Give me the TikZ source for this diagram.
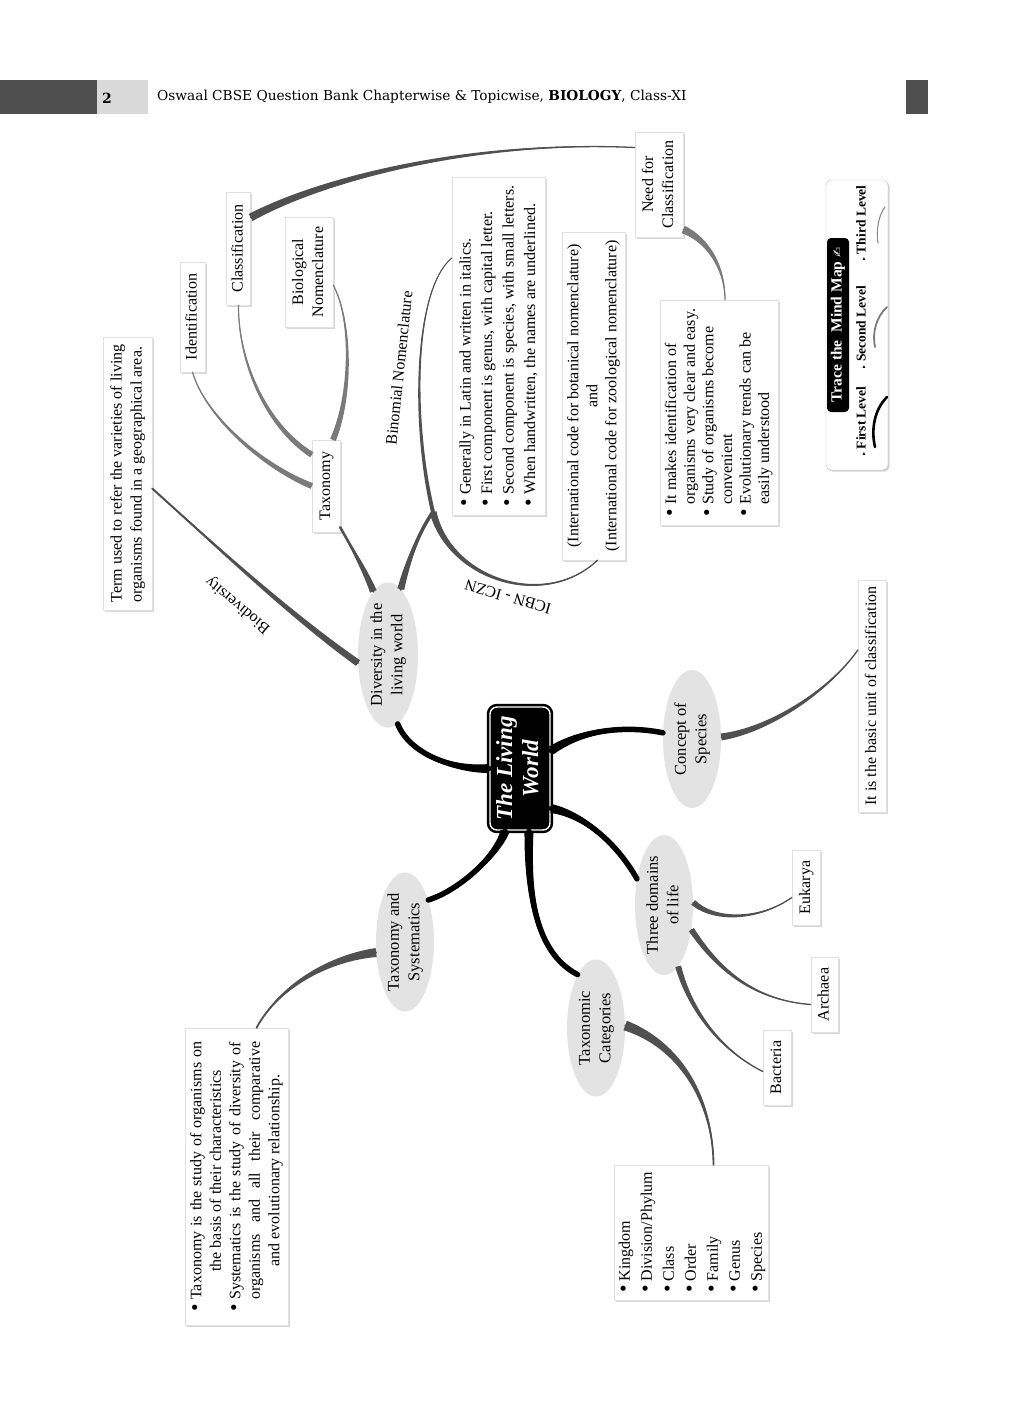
\documentclass[tikz,border=0pt]{standalone}
\usepackage{fontspec}
\usepackage{graphicx}
\setmainfont{Liberation Serif}
\newfontfamily\hdrfont{DejaVu Serif}
\newfontfamily\symf{DejaVu Sans}
\usetikzlibrary{calc,shapes.geometric,shadows}
\definecolor{lvB}{HTML}{505050}
\definecolor{lvC}{HTML}{7A7A7A}
\definecolor{ellfill}{HTML}{E3E3E3}
\definecolor{hdark}{HTML}{4F4F4F}
\definecolor{hlight}{HTML}{D9D9D9}
\newcommand\rtxt[2][c]{\rotatebox{90}{\begin{tabular}{@{}#1@{}}#2\end{tabular}}}
\newcommand\bul{\raisebox{-0.05ex}{\scalebox{1.35}{\textbullet}}}
\newcommand\mmtaper[7]{%
 \fill[#6] ($(#1)!#5!90:#2$) .. controls ($#2!#5*0.7!90:#3$) and ($#3!#5*0.35!90:(#4)$) .. (#4)
 .. controls ($#3!#5*0.35!-90:(#4)$) and ($#2!#5*0.7!-90:#3$) .. ($(#1)!#5!-90:#2$) -- cycle;
 \draw[#6,line width=#7,line cap=round] (#1) .. controls #2 and #3 .. (#4);
}
\begin{document}
\begin{tikzpicture}[x=1pt,y=-1pt,
 ell/.style={ellipse,fill=ellfill,inner sep=0pt,font=\fontsize{16.5}{20.5}\selectfont},
 box/.style={rectangle,fill=white,draw=black!12,line width=0.4pt,inner sep=0pt,
   drop shadow={shadow xshift=1.5pt,shadow yshift=-1.5pt,opacity=0.3},font=\fontsize{16}{20}\selectfont},
 lbl/.style={inner sep=0pt,font=\fontsize{16}{18}\selectfont},
 lev/.style={inner sep=0pt,font=\bfseries\fontsize{13.5}{15}\selectfont},
]
\useasboundingbox (0,0) rectangle (1024,1408);
\fill[white] (0,0) rectangle (1024,1408);
% header
\fill[hdark] (0,80) rectangle (97,114);
\fill[hlight] (97,80) rectangle (148,114);
\fill[hdark] (906,80) rectangle (928,114);
\node[anchor=west,inner sep=0pt,font=\hdrfont\bfseries\fontsize{14}{16}\selectfont] (pg) at (102,98) {2};
\node[anchor=west,inner sep=0pt,font=\hdrfont\fontsize{13.7}{16}\selectfont] (hdr) at (157,97) {Oswaal CBSE Question Bank Chapterwise \& Topicwise, \textbf{BIOLOGY}, Class-XI};

% centre
\node[rectangle,rounded corners=7pt,fill=black,draw=black,double=white,double distance=1.4pt,line width=2.5pt,
  minimum width=60,minimum height=123,inner sep=0pt,text=white,font=\bfseries\itshape\fontsize{23}{26}\selectfont]
  (ctr) at (520,768.5) {\rtxt{The Living\\World}};

% first level
\node[ell,minimum width=60,minimum height=135] (div) at (388,655) {\rtxt{Diversity in the\\living world}};
\node[ell,minimum width=56,minimum height=138] (conc) at (692,739) {\rtxt{Concept of\\Species}};
\node[ell,minimum width=52,minimum height=140] (three) at (664,905) {\rtxt{Three domains\\of life}};
\node[ell,minimum width=52,minimum height=137] (tcat) at (596,1028) {\rtxt{Taxonomic\\Categories}};
\node[ell,minimum width=53,minimum height=139] (tsys) at (405,942) {\rtxt{Taxonomy and\\Systematics}};

% boxes
\node[box,minimum width=49,minimum height=273] (term) at (127.5,473.5) {\rtxt[l]{Term used to refer the varieties of living\\organisms found in a geographical area.}};
\node[box,minimum width=25,minimum height=110] (ident) at (192.5,317) {\rtxt{Identification}};
\node[box,minimum width=24,minimum height=113] (class) at (238.5,248.5) {\rtxt{Classification}};
\node[box,minimum width=48,minimum height=110] (bionom) at (309,272) {\rtxt{Biological\\Nomenclature}};
\node[box,minimum width=28,minimum height=92] (taxo) at (326,486) {\rtxt{Taxonomy}};
\node[box,minimum width=93,minimum height=338,font=\fontsize{16}{21.5}\selectfont] (binom) at (498.5,346) {\rtxt[l@{\ }l]{\bul & Generally in Latin and written in italics.\\ \bul & First component is genus, with capital letter.\\ \bul & Second component is species, with small letters.\\ \bul & When handwritten, the names are underlined.}};
\node[box,minimum width=63,minimum height=328,font=\fontsize{16}{19}\selectfont] (icbn) at (593.5,396) {\rtxt{(International code for botanical nomenclature)\\and\\(International code for zoological nomenclature)}};
\node[box,minimum width=48,minimum height=105] (need) at (659,184.5) {\rtxt{Need for\\Classification}};
\node[box,minimum width=118,minimum height=225,font=\fontsize{16}{18.6}\selectfont] (needb) at (719,412.5) {\rtxt[l@{\ }l]{\bul & It makes identification of\\ & organisms very clear and easy.\\ \bul & Study of organisms become\\ & convenient\\ \bul & Evolutionary trends can be\\ & easily understood}};
\node[box,minimum width=28,minimum height=232] (basic) at (872,696) {\rtxt{It is the basic unit of classification}};
\node[box,minimum width=28,minimum height=75] (euk) at (806,887.5) {\rtxt{Eukarya}};
\node[box,minimum width=27,minimum height=75] (arch) at (824.5,994.5) {\rtxt{Archaea}};
\node[box,minimum width=28,minimum height=75] (bact) at (777,1067.5) {\rtxt{Bacteria}};
\node[box,minimum width=153,minimum height=135,font=\fontsize{16}{22}\selectfont] (tcl) at (691.5,1232.5) {\rtxt[l@{\ }l]{\bul & Kingdom\\ \bul & Division/Phylum\\ \bul & Class\\ \bul & Order\\ \bul & Family\\ \bul & Genus\\ \bul & Species}};
\node[box,minimum width=103,minimum height=297,font=\fontsize{16}{19.5}\selectfont] (tsb) at (236.5,1176.5) {\rotatebox{90}{\begin{tabular}{@{}l@{\ }l@{}}
\bul & \makebox[258pt][s]{Taxonomy is the study of organisms on}\\
 & \makebox[258pt][c]{the basis of their characteristics}\\
\bul & \makebox[258pt][s]{Systematics is the study of diversity of}\\
 & \makebox[258pt][s]{organisms and all their comparative}\\
 & \makebox[258pt][c]{and evolutionary relationship.}
\end{tabular}}};

% legend
\node[rectangle,rounded corners=5pt,fill=white,draw=black!25,minimum width=62,minimum height=290,
  drop shadow={shadow xshift=1.5pt,shadow yshift=-1.5pt,opacity=0.35}] (leg) at (857,325) {};
\node[rectangle,rounded corners=4pt,fill=black,text=white,inner sep=0pt,minimum width=22,minimum height=174,
  font=\bfseries\fontsize{15.5}{17}\selectfont] (legt) at (838,325) {\rotatebox{90}{Trace the\ \ Mind Map {\symf\fontsize{12}{12}\selectfont ✍}}};
\node[lev] (lv1) at (861,421) {\rotatebox{90}{{\symf\fontsize{6}{7}\selectfont ▸} First Level}};
\node[lev] (lv2) at (861,327) {\rotatebox{90}{{\symf\fontsize{6}{7}\selectfont ▸} Second Level}};
\node[lev] (lv3) at (861,223) {\rotatebox{90}{{\symf\fontsize{6}{7}\selectfont ▸} Third Level}};
\draw[line width=2.6pt,line cap=round] (887,397) .. controls (874,410) and (871,430) .. (875,447);
\draw[lvC,line width=1.8pt,line cap=round] (887,307) .. controls (876,317) and (872,333) .. (875,347);
\draw[black!45,line width=1.1pt,line cap=round] (885,207) .. controls (878,216) and (876,232) .. (878,243);

% labels
\node[lbl,rotate=140] (lbio) at (238,605) {Biodiversity};
\node[lbl,rotate=84] (lbn) at (399,368) {Binomial Nomenclature};
\node[lbl,rotate=164] (licbn) at (508,597) {ICBN - ICZN};

% helper coordinates
\coordinate (c2s) at ($(ctr.east)+(0,-18)$);
\coordinate (c3s) at ($(ctr.east)+(0,40)$);
\coordinate (c4s) at ($(ctr.south)+(9,0)$);
\coordinate (c5s) at ($(ctr.south)+(-15,0)$);
\coordinate (d1e) at ($(term.east)+(0,15)$);
\coordinate (d2e) at ($(taxo.south east)+(0,-5)$);
\coordinate (bj) at (433,512);
\coordinate (bne) at ($(binom.west)+(0,-88)$);
\coordinate (icbne) at ($(icbn.south)+(4,0)$);
\coordinate (t2s) at ($(taxo.north west)+(0,15)$);
\coordinate (t3s) at ($(taxo.north)+(7,0)$);
\coordinate (t3e) at ($(bionom.east)+(0,13)$);
\coordinate (ks) at ($(class.east)+(0,-31)$);
\coordinate (ke) at ($(need.west)+(0,-37)$);
\coordinate (n1s) at ($(need.east)+(0,45)$);
\coordinate (n1e) at ($(needb.north)+(6,0)$);
\coordinate (e1e) at ($(basic.west)+(0,-46)$);
\coordinate (f1e) at ($(euk.west)+(0,10)$);
\coordinate (f2e) at ($(arch.west)+(0,10)$);
\coordinate (f3e) at ($(bact.west)+(0,4)$);
\coordinate (g1e) at ($(tcl.north)+(22,0)$);
\coordinate (h1e) at ($(tsb.north)+(20,0)$);

% first-level connectors
\mmtaper{ctr.west}{(455,770)}{(410,755)}{div.278}{4.5pt}{black}{5.5pt}
\mmtaper{c2s}{(585,728)}{(630,726)}{conc.168}{4.5pt}{black}{5.5pt}
\mmtaper{c3s}{(585,815)}{(618,845)}{three.136}{4.5pt}{black}{5.5pt}
\mmtaper{c4s}{(527,905)}{(540,955)}{tcat.109}{4.5pt}{black}{5.5pt}
\mmtaper{c5s}{(497,855)}{(460,890)}{tsys.61}{4.5pt}{black}{5.5pt}

% second level
\mmtaper{div.195}{(290,615)}{(215,545)}{d1e}{3.5pt}{lvB}{2pt}
\mmtaper{div.103}{(365,570)}{(350,545)}{d2e}{3.5pt}{lvB}{2.5pt}
\mmtaper{div.79}{(408,560)}{(420,530)}{bj}{3.5pt}{lvB}{3.5pt}
\mmtaper{bj}{(412,425)}{(413,290)}{bne}{2pt}{lvB}{1pt}
\mmtaper{bj}{(450,580)}{(545,610)}{icbne}{3.5pt}{lvB}{1.3pt}
\mmtaper{conc.4}{(770,730)}{(830,690)}{e1e}{3.5pt}{lvB}{1.3pt}
\mmtaper{three.5}{(715,922)}{(760,920)}{f1e}{3pt}{lvB}{1.3pt}
\mmtaper{three.318}{(715,965)}{(750,1000)}{f2e}{3pt}{lvB}{1.3pt}
\mmtaper{three.283}{(690,1010)}{(720,1050)}{f3e}{3pt}{lvB}{1.3pt}
\mmtaper{tcat.5}{(680,1045)}{(713,1100)}{g1e}{5pt}{lvB}{1.8pt}
\mmtaper{tsys.200}{(330,958)}{(280,985)}{h1e}{4.5pt}{lvB}{1.8pt}

% third level
\mmtaper{taxo.west}{(260,465)}{(205,415)}{ident.south}{3pt}{lvC}{1.2pt}
\mmtaper{t2s}{(265,425)}{(238,360)}{class.south}{3pt}{lvC}{1.2pt}
\mmtaper{t3s}{(352,395)}{(352,320)}{t3e}{3pt}{lvC}{1.2pt}
\mmtaper{ks}{(320,180)}{(470,140)}{ke}{4pt}{lvB}{1.3pt}
\mmtaper{n1s}{(708,240)}{(725,268)}{n1e}{4pt}{lvC}{1.3pt}
\end{tikzpicture}
\end{document}
